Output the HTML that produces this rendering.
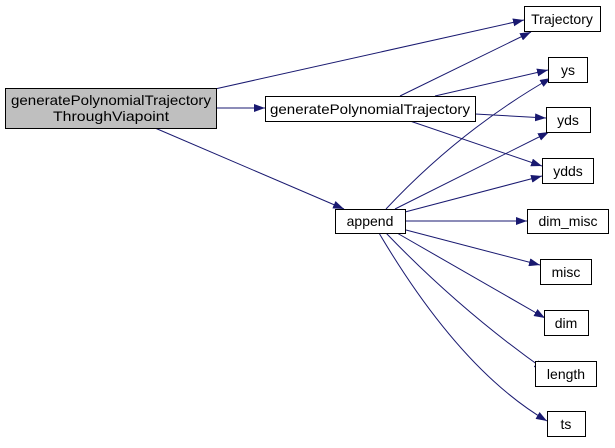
<!DOCTYPE html>
<html><head><meta charset="utf-8"><style>
body{margin:0;background:#fff;width:615px;height:443px;overflow:hidden}
text{font-family:"Liberation Sans",sans-serif;font-size:14px;fill:#000}
</style></head><body>
<svg width="615" height="443" viewBox="0 0 615 443" xmlns="http://www.w3.org/2000/svg">
<defs><marker id="a" markerWidth="11" markerHeight="8" refX="11" refY="4" orient="auto" markerUnits="userSpaceOnUse"><path d="M0,0 L11,4 L0,8 z" fill="#191970"/></marker></defs>
<g stroke="#191970" stroke-width="1" fill="none" marker-end="url(#a)">
<path d="M215,89 L524,20"/>
<path d="M217,108 L265,108"/>
<path d="M155,128 L344,209"/>
<path d="M400,96 L531,32"/>
<path d="M435,96 L548,70"/>
<path d="M475,114 L546,118"/>
<path d="M410,121 L542,166"/>
<path d="M386,209 Q460,130 551,78"/>
<path d="M395,209 L549,132"/>
<path d="M405,212 L542,176"/>
<path d="M406,221 L527,221"/>
<path d="M406,230 L540,265"/>
<path d="M397,233 L545,318"/>
<path d="M386,233 Q460,310 545,370"/>
<path d="M379,233 Q460,370 547,421"/>
</g>
<g stroke="#000" stroke-width="1">
<rect x="5.5" y="88.5" width="211" height="40" fill="#bfbfbf"/>
<rect x="265.5" y="96.5" width="210" height="25" fill="#fff"/>
<rect x="335.5" y="209.5" width="70" height="24" fill="#fff"/>
<rect x="524.5" y="6.5" width="76" height="25" fill="#fff"/>
<rect x="548.5" y="57.5" width="39" height="25" fill="#fff"/>
<rect x="546.5" y="107.5" width="44" height="25" fill="#fff"/>
<rect x="542.5" y="158.5" width="51" height="25" fill="#fff"/>
<rect x="527.5" y="209.5" width="81" height="24" fill="#fff"/>
<rect x="540.5" y="259.5" width="51" height="25" fill="#fff"/>
<rect x="544.5" y="310.5" width="44" height="25" fill="#fff"/>
<rect x="535.5" y="361.5" width="61" height="25" fill="#fff"/>
<rect x="547.5" y="411.5" width="38" height="25" fill="#fff"/>
</g>
<g text-anchor="middle">
<text x="111" y="105" textLength="200" lengthAdjust="spacingAndGlyphs">generatePolynomialTrajectory</text>
<text x="111" y="121" textLength="116" lengthAdjust="spacingAndGlyphs">ThroughViapoint</text>
<text x="370" y="114" textLength="200" lengthAdjust="spacingAndGlyphs">generatePolynomialTrajectory</text>
<text x="370" y="226">append</text>
<text x="562" y="24">Trajectory</text>
<text x="568" y="75">ys</text>
<text x="568" y="125">yds</text>
<text x="568" y="176">ydds</text>
<text x="568" y="226">dim_misc</text>
<text x="566" y="277">misc</text>
<text x="566" y="328">dim</text>
<text x="566" y="379">length</text>
<text x="566" y="429">ts</text>
</g>
</svg>
</body></html>
